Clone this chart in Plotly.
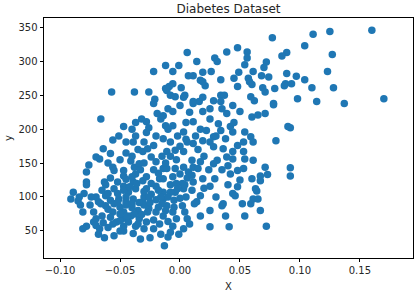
import plotly.graph_objects as go

# BMI (scaled) vs disease progression
bmi = [
    0.077, 0.111, 0.125, 0.160, 0.104, 0.089, 0.127, 0.123, 0.089, 0.097, 0.104, 0.093, 0.088, 0.110, 0.128, 0.098, 0.114, 0.137, 0.170, 0.092, 0.092, 0.092,
    0.048, 0.039, 0.056, 0.056, 0.006, 0.029, 0.031, 0.014, 0.085, -0.012, -0.001, -0.006, 0.072, 0.070, 0.054, 0.007, 0.011, 0.019, 0.026, 0.049, 0.061, 0.045, 0.034, 0.017, 0.057, 0.058, 0.068, 0.074, 0.021, 0.019, -0.009, -0.006, 0.001, 0.048, 0.060, 0.069, 0.071, 0.079, 0.087, -0.011, -0.008, 0.004, 0.003, 0.034, 0.037, 0.019, 0.016, 0.011, 0.028, 0.059, 0.062, 0.078,
    -0.022, -0.057, -0.038, -0.026, -0.021, -0.012,
    -0.066, -0.047, -0.037, -0.032, -0.028, -0.026, -0.022, -0.019, -0.016, -0.056, -0.051, -0.045, -0.039, -0.037, -0.030, -0.064, -0.058, -0.070, -0.067, -0.056, -0.055, -0.076, -0.078, -0.047, -0.047, -0.041, -0.038, -0.037, -0.034, -0.031, -0.027, -0.022, -0.024, -0.020, -0.014, -0.017, -0.031, -0.039, -0.078, -0.063,
    -0.078, -0.062, -0.047, -0.089, -0.091, -0.085, -0.080, -0.081, -0.072, -0.062, -0.055, -0.068, -0.062, -0.056, -0.078, -0.081, -0.072, -0.067, -0.063, -0.055, -0.047, -0.039, -0.037, -0.030, -0.022, -0.013, -0.047, -0.041, -0.034, -0.051, -0.045, -0.039, -0.031, -0.026, -0.020, -0.014, -0.037, -0.028, -0.020, -0.014, -0.043, -0.053, -0.047,
    -0.010, -0.008, -0.006, 0.003, 0.006, 0.004, 0.002, -0.006, -0.011, -0.014, -0.004, -0.008, 0.003, 0.014, 0.017, 0.017, 0.025, 0.036, 0.035, 0.038, 0.044, 0.046, 0.041, 0.054, 0.059, 0.061, 0.064, 0.065, 0.067, 0.072, 0.025, 0.011, 0.067, 0.063,
    0.078, 0.080, 0.060, 0.065, 0.071, 0.050, 0.044, 0.039, 0.034, 0.025, 0.019, 0.011, 0.000, -0.006, -0.014, -0.012, -0.006, 0.003, 0.011, 0.017, 0.022, 0.032, 0.034, 0.042, 0.044, 0.054, 0.059, 0.053, 0.048, 0.038, 0.028, 0.025, 0.019, 0.011, 0.006, -0.002, -0.008, -0.014, -0.011, -0.004, 0.003, 0.028, 0.036, 0.044, 0.053, 0.061, 0.054, 0.044, 0.039, 0.031, 0.010, 0.017, 0.028, 0.011, 0.003, -0.004, -0.011, -0.014, -0.006, 0.000, 0.007, 0.015, 0.019, 0.029, 0.040, 0.042, 0.048, 0.053, 0.061, 0.067, 0.071, 0.073, 0.090, 0.060,
    -0.050, -0.045, -0.040, -0.035, -0.030, -0.025, -0.020, -0.015, -0.010, -0.005, 0.000, -0.048, -0.043, -0.035, -0.028, -0.022, -0.017, -0.010, -0.003, -0.058, -0.065, -0.070, -0.075, -0.070, -0.065, -0.058, -0.052, -0.045, -0.040, -0.033, -0.028, -0.024, -0.018, -0.012, -0.008, -0.003, 0.002, 0.006, 0.010, 0.005, 0.010, 0.012, 0.008, -0.001, -0.016, -0.025, -0.033, -0.050, -0.060, -0.068, -0.058, -0.052, -0.045, -0.030, -0.024, -0.018, -0.008, -0.003, 0.000, 0.005, 0.008, -0.010, -0.004, 0.013, 0.020, 0.024, 0.035, 0.040, 0.048, 0.052, 0.030, 0.025, 0.050, 0.020, -0.035, -0.045, -0.050, -0.060, -0.028, -0.040, -0.010, -0.020,
    -0.060, -0.055, -0.050, -0.044, -0.038, -0.032, -0.027, -0.052, -0.047, -0.042, -0.036, -0.030, -0.026, -0.034, -0.040, -0.056, -0.050, -0.064, -0.070, -0.018, -0.012, -0.016, -0.005, -0.002, 0.004, -0.066, -0.074, -0.084, -0.083, -0.060, -0.022, -0.015, -0.030, -0.040, 0.015, 0.025, 0.030, 0.005, 0.035, 0.045,
]
target = [
    335, 340, 344, 346, 323, 313, 310, 285, 282, 278, 273, 267, 267, 261, 261, 245, 241, 238, 245, 202, 143, 131,
    320, 314, 314, 305, 313, 305, 300, 300, 308, 294, 294, 285, 299, 291, 295, 279, 279, 284, 285, 284, 285, 275, 273, 272, 275, 270, 279, 277, 264, 270, 263, 267, 261, 263, 266, 261, 255, 260, 264, 257, 250, 250, 247, 250, 250, 247, 241, 241, 242, 248, 242, 238,
    285, 255, 255, 255, 244, 260,
    215, 204, 210, 215, 211, 202, 238, 223, 215, 184, 190, 181, 181, 190, 181, 171, 164, 159, 156, 144, 139, 147, 137, 139, 131, 153, 144, 134, 149, 167, 171, 176, 159, 152, 142, 127, 124, 122, 122, 122,
    118, 118, 116, 107, 97, 94, 105, 78, 78, 102, 112, 93, 87, 78, 57, 53, 63, 53, 40, 43, 50, 46, 57, 53, 53, 28, 78, 72, 68, 97, 93, 97, 93, 83, 78, 72, 112, 112, 116, 107, 107, 63, 57,
    41, 48, 57, 53, 68, 78, 87, 78, 87, 97, 107, 107, 112, 93, 102, 72, 56, 90, 87, 72, 105, 102, 56, 72, 90, 97, 109, 97, 80, 57, 116, 122, 124, 112,
    236, 183, 218, 221, 223, 226, 235, 223, 241, 230, 226, 238, 235, 226, 220, 205, 205, 196, 211, 200, 198, 208, 198, 204, 196, 196, 189, 181, 176, 186, 189, 181, 183, 179, 181, 190, 181, 186, 167, 169, 167, 174, 171, 167, 167, 181, 156, 156, 159, 154, 154, 152, 149, 144, 144, 142, 142, 127, 130, 134, 137, 142, 127, 127, 146, 134, 139, 142, 154, 131, 144, 133, 204, 127,
    85, 88, 84, 80, 88, 92, 96, 90, 100, 95, 98, 68, 63, 60, 63, 66, 60, 64, 68, 70, 72, 68, 88, 100, 110, 128, 122, 126, 130, 140, 130, 120, 135, 150, 160, 155, 120, 128, 132, 100, 110, 90, 60, 45, 45, 40, 38, 50, 55, 45, 95, 105, 100, 100, 104, 110, 118, 120, 175, 210, 225, 230, 248, 190, 160, 140, 140, 118, 115, 90, 100, 80, 125, 113, 170, 165, 155, 150, 195, 200, 200, 190,
    82, 90, 75, 72, 75, 74, 78, 92, 110, 115, 120, 108, 100, 92, 90, 60, 65, 62, 58, 85, 80, 100, 85, 112, 118, 90, 100, 100, 88, 105, 140, 160, 150, 160, 170, 215, 190, 185, 230, 210,
]

x_ticks = [-0.10, -0.05, 0.00, 0.05, 0.10, 0.15]
x_tick_labels = ["\u22120.10", "\u22120.05", "0.00", "0.05", "0.10", "0.15"]
y_ticks = [50, 100, 150, 200, 250, 300, 350]

font = "DejaVu Sans"

fig = go.Figure(
    go.Scatter(
        x=bmi, y=target, mode="markers",
        marker=dict(size=7.5, color="#1f77b4", line=dict(width=0)),
        hoverinfo="skip",
    )
)

axis_common = dict(
    showgrid=False, zeroline=False, showline=True, linecolor="black", linewidth=0.8,
    mirror=True, ticks="outside", ticklen=3.5, tickwidth=0.8, tickcolor="black",
    tickfont=dict(family=font, size=10, color="#262626"),
)

fig.update_layout(
    width=417, height=300,
    margin=dict(l=44, r=4, t=18, b=42),
    paper_bgcolor="white", plot_bgcolor="white",
    showlegend=False,
    title=dict(text="Diabetes Dataset", x=0.5, xanchor="center", xref="paper",
               y=1 - 9 / 300, yanchor="middle",
               font=dict(family=font, size=12, color="#262626")),
    xaxis=dict(range=[-0.1134, 0.1943], tickvals=x_ticks, ticktext=x_tick_labels,
               title=dict(text="X", font=dict(family=font, size=10, color="#262626"), standoff=7),
               **axis_common),
    yaxis=dict(range=[10, 364], tickvals=y_ticks,
               title=dict(text="y", font=dict(family=font, size=10, color="#262626"), standoff=4),
               **axis_common),
)

fig.write_html("out.html")
